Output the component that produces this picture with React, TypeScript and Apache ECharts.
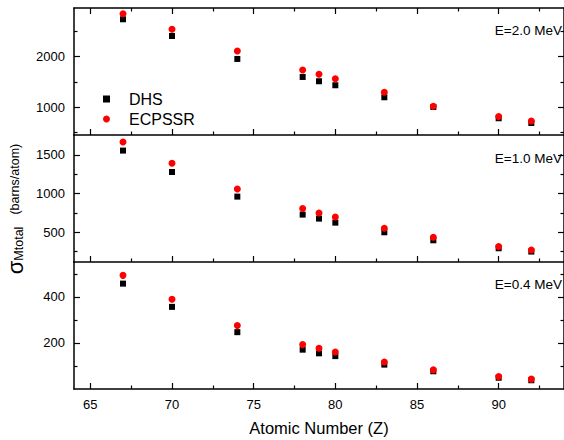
import React, { useEffect, useRef } from 'react';
import * as echarts from 'echarts';

const FONT = 'Liberation Sans, Arial, sans-serif';

// Atomic numbers of the targets
const Z = [67, 70, 74, 78, 79, 80, 83, 86, 90, 92];

// E = 2.0 MeV
const dhs20 = [2739, 2409, 1955, 1599, 1514, 1435, 1198, 1006, 783, 690];
const ecp20 = [2850, 2541, 2113, 1737, 1652, 1565, 1296, 1020, 816, 729];
// E = 1.0 MeV
const dhs10 = [1557, 1280, 961, 728, 676, 624, 499, 395, 292, 249];
const ecp10 = [1668, 1392, 1060, 806, 749, 697, 551, 434, 314, 269];
// E = 0.4 MeV
const dhs04 = [458, 357, 247, 171, 155, 143, 106, 77, 49, 38];
const ecp04 = [494, 390, 276, 193, 177, 161, 117, 83, 54, 43];

const panelLabels = ['E=2.0 MeV', 'E=1.0 MeV', 'E=0.4 MeV'];
const dhsSets = [dhs20, dhs10, dhs04];
const ecpSets = [ecp20, ecp10, ecp04];

const xMin = 64;
const xMax = 94;
const xMajor = [65, 70, 75, 80, 85, 90];
const xMinor = [67.5, 72.5, 77.5, 82.5, 87.5, 92.5];

const yMin = [452, 114, 0];
const yMax = [2962, 1759, 552];
const yMajor = [[1000, 2000], [500, 1000, 1500], [200, 400]];
const yMinor = [[500, 1500, 2500], [250, 750, 1250], [100, 300, 500]];

const GRID_TOPS = [8, 135, 262];
const GRID_H = 127;
const LABEL_Y = [30, 158, 284];

export default function App() {
  const ref = useRef<HTMLDivElement>(null);

  useEffect(() => {
    if (!ref.current) return;
    const chart = echarts.init(ref.current, undefined, { renderer: 'svg' });

    const grids = GRID_TOPS.map((t) => ({ left: 74, right: -2, top: t, height: GRID_H }));

    const lineStyle = { color: '#000', width: 1.5 };
    const tickStyle = { color: '#000', width: 1.2 };
    const labelStyle = { color: '#000', fontSize: 13, fontFamily: FONT, formatter: (v: number) => String(v) };

    const mkX = (grid: number, pos: string, ticks: number[], len: number, showLine: boolean, labels?: number[], extra?: any) => ({
      type: 'value', gridIndex: grid, position: pos, min: xMin, max: xMax,
      axisLine: { show: showLine, onZero: false, lineStyle },
      axisTick: { show: true, inside: true, length: len, customValues: ticks, lineStyle: tickStyle },
      axisLabel: labels ? { show: true, customValues: labels, margin: 9, ...labelStyle } : { show: false },
      splitLine: { show: false },
      ...(extra || {}),
    });

    const mkY = (grid: number, pos: string, ticks: number[], len: number, showLine: boolean, labels?: number[]) => ({
      type: 'value', gridIndex: grid, position: pos, min: yMin[grid], max: yMax[grid],
      axisLine: { show: showLine, onZero: false, lineStyle },
      axisTick: { show: true, inside: true, length: len, customValues: ticks, lineStyle: tickStyle },
      axisLabel: labels ? { show: true, customValues: labels, margin: 9, ...labelStyle } : { show: false },
      splitLine: { show: false },
    });

    const xAxes: any[] = [];
    const yAxes: any[] = [];
    for (let i = 0; i < 3; i++) {
      const last = i === 2;
      xAxes.push(mkX(i, 'bottom', xMajor, 6, true, last ? xMajor : undefined, last ? {
        name: 'Atomic Number (Z)', nameLocation: 'middle', nameGap: 30,
        nameTextStyle: { color: '#000', fontSize: 16.5, fontFamily: FONT },
      } : undefined));
      xAxes.push(mkX(i, 'bottom', xMinor, 3.5, false));
      yAxes.push(mkY(i, 'left', yMajor[i], 6, true, yMajor[i]));
      yAxes.push(mkY(i, 'left', yMinor[i], 3.5, false));
      yAxes.push(mkY(i, 'right', yMajor[i], 6, true));
      yAxes.push(mkY(i, 'right', yMinor[i], 3.5, false));
    }
    // top frame of the first panel
    xAxes.push(mkX(0, 'top', xMajor, 6, true));
    xAxes.push(mkX(0, 'top', xMinor, 3.5, false));

    const series: any[] = [];
    for (let i = 0; i < 3; i++) {
      series.push({
        type: 'scatter', name: 'DHS', xAxisIndex: 2 * i, yAxisIndex: 4 * i,
        symbol: 'rect', symbolSize: 6, itemStyle: { color: '#000', opacity: 1 },
        data: Z.map((z, k) => [z, dhsSets[i][k]]),
      });
      series.push({
        type: 'scatter', name: 'ECPSSR', xAxisIndex: 2 * i, yAxisIndex: 4 * i,
        symbol: 'circle', symbolSize: 7, itemStyle: { color: '#ff0000', opacity: 1 },
        data: Z.map((z, k) => [z, ecpSets[i][k]]),
      });
    }

    const graphics: any[] = panelLabels.map((t, i) => ({
      type: 'text', x: 562, y: LABEL_Y[i],
      style: { text: t, align: 'right', verticalAlign: 'middle', fill: '#000', fontSize: 13.5, fontFamily: FONT },
    }));
    graphics.push({
      type: 'text', x: 15, y: 209, rotation: Math.PI / 2,
      style: {
        text: '{s|σ}{sub|Mtotal}{n|(barns/atom)}',
        align: 'center', verticalAlign: 'middle', fill: '#000', fontFamily: FONT,
        rich: {
          s: { fontSize: 22, lineHeight: 20, fontFamily: FONT, fill: '#000' },
          sub: { fontSize: 12.5, lineHeight: 12, verticalAlign: 'bottom', fontFamily: FONT, fill: '#000' },
          n: { fontSize: 12.5, lineHeight: 20, fontFamily: FONT, fill: '#000', padding: [0, 0, 0, 12] },
        },
      },
    });

    chart.setOption({
      animation: false,
      backgroundColor: '#fff',
      grid: grids,
      xAxis: xAxes,
      yAxis: yAxes,
      legend: {
        orient: 'vertical', left: 98, top: 86, itemWidth: 7, itemHeight: 7, itemGap: 4,
        data: [{ name: 'DHS', icon: 'rect' }, { name: 'ECPSSR', icon: 'circle' }],
        itemStyle: { opacity: 1 },
        textStyle: { fontSize: 16, fontFamily: FONT, color: '#000', lineHeight: 16, padding: [0, 0, 0, 14] },
      },
      graphic: graphics,
      series,
    });

    return () => chart.dispose();
  }, []);

  return <div ref={ref} style={{ position: 'absolute', left: 0, top: 0, width: 564, height: 440 }} />;
}
